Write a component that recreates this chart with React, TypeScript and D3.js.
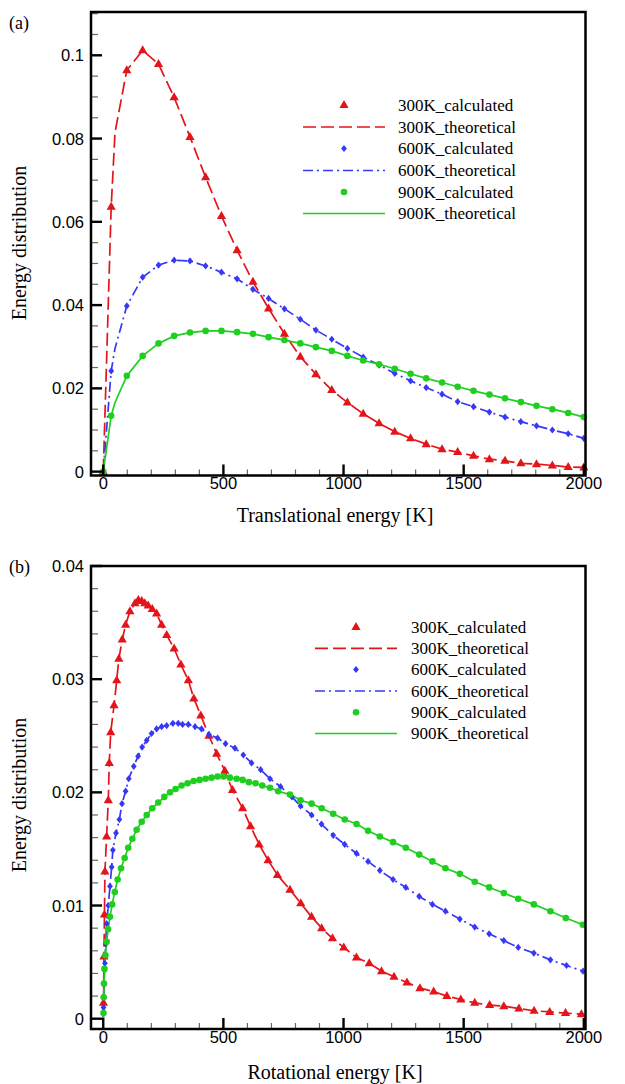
import React from "react";
import * as d3 from "d3";

// ---------- Panel (a): translational energy ----------
const transE = [0, 33, 98, 164, 230, 295, 361, 426, 492, 557, 623, 688, 754, 820, 885, 951, 1016, 1082, 1148, 1213, 1279, 1344, 1410, 1475, 1541, 1607, 1672, 1738, 1803, 1869, 1935, 2000];
const trans300Calc = [0, 0.0636, 0.0964, 0.1012, 0.0979, 0.0899, 0.0804, 0.0707, 0.0614, 0.0532, 0.0456, 0.0392, 0.0331, 0.0276, 0.0234, 0.0196, 0.0166, 0.0139, 0.0116, 0.0096, 0.008, 0.0066, 0.0054, 0.0047, 0.0038, 0.003, 0.0026, 0.002, 0.0018, 0.0015, 0.0011, 0.001];
const trans600Calc = [0, 0.0242, 0.0398, 0.0467, 0.0496, 0.0508, 0.0506, 0.0494, 0.0479, 0.0463, 0.0438, 0.0416, 0.0391, 0.0366, 0.034, 0.0318, 0.0296, 0.0275, 0.0256, 0.0236, 0.0218, 0.0202, 0.0186, 0.0168, 0.0156, 0.0143, 0.0131, 0.012, 0.011, 0.01, 0.0091, 0.008];
const trans900Calc = [0, 0.0134, 0.023, 0.0278, 0.0308, 0.0326, 0.0334, 0.0338, 0.0338, 0.0335, 0.0331, 0.0323, 0.0316, 0.0308, 0.0299, 0.029, 0.0278, 0.0267, 0.0258, 0.0247, 0.0235, 0.0224, 0.0214, 0.0204, 0.0194, 0.0185, 0.0176, 0.0167, 0.0158, 0.015, 0.0141, 0.0131];

const transTheoE = [0, 33, 49, 98, 164, 230, 295, 361, 426, 492, 557, 623, 688, 754, 820, 885, 951, 1016, 1082, 1148, 1213, 1279, 1344, 1410, 1475, 1541, 1607, 1672, 1738, 1803, 1869, 1935, 2000];
const trans300Theo = [0, 0.0636, 0.0815, 0.0964, 0.1012, 0.0979, 0.0899, 0.0804, 0.0707, 0.0614, 0.0532, 0.0456, 0.0392, 0.0331, 0.0276, 0.0234, 0.0196, 0.0166, 0.0139, 0.0116, 0.0096, 0.008, 0.0066, 0.0054, 0.0047, 0.0038, 0.003, 0.0026, 0.002, 0.0018, 0.0015, 0.0011, 0.001];
const trans600Theo = [0, 0.0242, 0.0296, 0.0398, 0.0467, 0.0496, 0.0508, 0.0506, 0.0494, 0.0479, 0.0463, 0.0438, 0.0416, 0.0391, 0.0366, 0.034, 0.0318, 0.0296, 0.0275, 0.0256, 0.0236, 0.0218, 0.0202, 0.0186, 0.0168, 0.0156, 0.0143, 0.0131, 0.012, 0.011, 0.01, 0.0091, 0.008];
const trans900Theo = [0, 0.0134, 0.0166, 0.023, 0.0278, 0.0308, 0.0326, 0.0334, 0.0338, 0.0338, 0.0335, 0.0331, 0.0323, 0.0316, 0.0308, 0.0299, 0.029, 0.0278, 0.0267, 0.0258, 0.0247, 0.0235, 0.0224, 0.0214, 0.0204, 0.0194, 0.0185, 0.0176, 0.0167, 0.0158, 0.015, 0.0141, 0.0131];

// ---------- Panel (b): rotational energy ([E, value]) ----------
const rot300Calc = [
  [1, 0.0014], [3, 0.0055], [5, 0.0092], [7, 0.013], [14, 0.0161], [21, 0.0193], [25, 0.0226], [31, 0.0253],
  [45, 0.0277], [56, 0.0299], [65, 0.0318], [79, 0.0335], [93, 0.0348], [111, 0.036], [132, 0.0367], [146, 0.037],
  [160, 0.0369], [173, 0.0367], [187, 0.0365], [204, 0.0362], [222, 0.0358], [243, 0.0348], [264, 0.0339],
  [295, 0.0327], [323, 0.0313], [354, 0.0299], [377, 0.0283], [406, 0.0268], [440, 0.025], [472, 0.0234],
  [506, 0.0219], [538, 0.0202], [580, 0.0186], [613, 0.017], [649, 0.0154], [686, 0.014], [725, 0.0127],
  [777, 0.0114], [822, 0.0102], [867, 0.009], [909, 0.008], [954, 0.0071], [1001, 0.0063], [1054, 0.0054],
  [1107, 0.0049], [1158, 0.0042], [1210, 0.0037], [1264, 0.0032], [1318, 0.0027], [1375, 0.0024], [1430, 0.002],
  [1488, 0.0017], [1546, 0.0014], [1608, 0.0012], [1667, 0.0011], [1730, 0.0009], [1793, 0.0007], [1858, 0.0006],
  [1924, 0.0005], [1990, 0.0004],
];
const rot600Calc = [
  [1, 0.001], [3, 0.003], [7, 0.0049], [10, 0.0066], [14, 0.0084], [21, 0.01], [28, 0.0117], [35, 0.0134],
  [40, 0.0149], [53, 0.0164], [67, 0.0176], [78, 0.019], [93, 0.0201], [106, 0.0212], [127, 0.0223], [145, 0.0232],
  [162, 0.024], [181, 0.0246], [201, 0.0252], [222, 0.0256], [243, 0.0258], [264, 0.0259], [290, 0.0261],
  [312, 0.0261], [330, 0.026], [354, 0.026], [382, 0.0258], [409, 0.0256], [440, 0.0251], [476, 0.0248],
  [509, 0.0243], [548, 0.0239], [583, 0.0233], [617, 0.0226], [655, 0.022], [694, 0.0212], [738, 0.0205],
  [785, 0.0196], [821, 0.0188], [867, 0.018], [908, 0.0172], [957, 0.0162], [1005, 0.0154], [1054, 0.0146],
  [1102, 0.0139], [1151, 0.0131], [1206, 0.0123], [1259, 0.0116], [1315, 0.0108], [1370, 0.0101], [1424, 0.0095],
  [1484, 0.0088], [1546, 0.0081], [1606, 0.0075], [1667, 0.0069], [1727, 0.0063], [1792, 0.0058], [1861, 0.0052],
  [1928, 0.0047], [1997, 0.0042],
];
const rot900Calc = [
  [1, 0.0005], [2, 0.0019], [3, 0.0031], [5, 0.0044], [9, 0.0056], [14, 0.0068], [20, 0.0079], [28, 0.009],
  [37, 0.0101], [48, 0.0112], [60, 0.0123], [74, 0.0133], [89, 0.0142], [104, 0.0151], [121, 0.0159], [139, 0.0167],
  [160, 0.0174], [181, 0.018], [204, 0.0186], [229, 0.0191], [254, 0.0196], [278, 0.02], [301, 0.0203],
  [326, 0.0206], [351, 0.0208], [376, 0.021], [401, 0.0211], [426, 0.0212], [451, 0.0213], [476, 0.0214],
  [501, 0.0214], [527, 0.0213], [555, 0.0212], [580, 0.0211], [606, 0.0209], [634, 0.0208], [662, 0.0206],
  [694, 0.0204], [728, 0.0201], [777, 0.0198], [821, 0.0193], [867, 0.019], [909, 0.0186], [957, 0.0181],
  [1005, 0.0176], [1054, 0.0172], [1102, 0.0166], [1151, 0.0161], [1206, 0.0156], [1259, 0.0151], [1315, 0.0145],
  [1370, 0.0139], [1424, 0.0133], [1484, 0.0128], [1546, 0.0121], [1606, 0.0116], [1667, 0.0111], [1727, 0.0106],
  [1792, 0.0101], [1861, 0.0095], [1925, 0.0089], [1996, 0.0083],
];
const rotOrigin = [[0, 0]];
const rot300Theo = [...rotOrigin, ...rot300Calc];
const rot600Theo = [...rotOrigin, ...rot600Calc];
const rot900Theo = [...rotOrigin, ...rot900Calc];

// ---------- Axes ----------
const xMajor = [0, 500, 1000, 1500, 2000];
const xMajorLabels = ["0", "500", "1000", "1500", "2000"];
const aYMajor = [0, 0.02, 0.04, 0.06, 0.08, 0.1];
const aYLabels = ["0", "0.02", "0.04", "0.06", "0.08", "0.1"];
const bYMajor = [0, 0.01, 0.02, 0.03, 0.04];
const bYLabels = ["0", "0.01", "0.02", "0.03", "0.04"];

const legendLabels = ["300K_calculated", "300K_theoretical", "600K_calculated", "600K_theoretical", "900K_calculated", "900K_theoretical"];

const RED = "#e3151b";
const BLUE = "#3737f7";
const GREEN = "#1fcf1f";
const SERIF = "'Liberation Serif', 'Times New Roman', serif";
const SANS = "'Liberation Sans', Arial, sans-serif";

const x = d3.scaleLinear().domain([-51, 2007]).range([91, 585.5]);

const TRI = "M0,-5 L4.6,3 L-4.6,3 Z";
const DIA = "M0,-3.6 L2.9,0 L0,3.6 L-2.9,0 Z";

function Marker({ kind, cx, cy, color }) {
  if (kind === "tri") return <path d={TRI} transform={`translate(${cx},${cy})`} fill={color} />;
  if (kind === "dia") return <path d={DIA} transform={`translate(${cx},${cy})`} fill={color} />;
  return <circle cx={cx} cy={cy} r={3.3} fill={color} />;
}

const styles = [
  { color: RED, kind: "tri", dash: "13,5" },
  { color: BLUE, kind: "dia", dash: "10,4,2,4" },
  { color: GREEN, kind: "circ", dash: null },
];

function Panel({ top, bottom, yDomain, yMajor, yLabels, yMinorStep, yMinorMax, calc, theo, legendY, legendLine, legendText, tag, tagY, xTitle, xTitleY, yTitleY }) {
  const y = d3.scaleLinear().domain(yDomain).range([bottom, top]);
  const line = d3.line().x((d) => x(d[0])).y((d) => y(d[1]));
  const left = 91, right = 585.5;
  const xMinor = d3.range(100, 2000, 100).filter((v) => v % 500 !== 0);
  const yMinor = d3.range(yMinorStep, yMinorMax + 1e-9, yMinorStep).filter(
    (v) => !yMajor.some((m) => Math.abs(m - v) < 1e-9)
  );
  return (
    <g>
      {theo.map((data, i) => (
        <path key={"t" + i} d={line(data)} fill="none" stroke={styles[i].color} strokeWidth={1.7}
          strokeDasharray={styles[i].dash || undefined} />
      ))}
      {calc.map((data, i) =>
        data.map((d, j) => <Marker key={"m" + i + "-" + j} kind={styles[i].kind} cx={x(d[0])} cy={y(d[1])} color={styles[i].color} />)
      )}
      {xMinor.map((v) => (
        <line key={"xm" + v} x1={x(v)} x2={x(v)} y1={bottom} y2={bottom - 6} stroke="#666" strokeWidth={1.2} />
      ))}
      {xMajor.map((v) => (
        <line key={"xM" + v} x1={x(v)} x2={x(v)} y1={bottom} y2={bottom - 11} stroke="#000" strokeWidth={2.4} />
      ))}
      {yMinor.map((v) => (
        <line key={"ym" + v} x1={left} x2={left + 7} y1={y(v)} y2={y(v)} stroke="#666" strokeWidth={1.2} />
      ))}
      {yMajor.map((v) => (
        <line key={"yM" + v} x1={left} x2={left + 11} y1={y(v)} y2={y(v)} stroke="#000" strokeWidth={2.4} />
      ))}
      <rect x={left} y={top} width={right - left} height={bottom - top} fill="none" stroke="#000" strokeWidth={2.5} />
      {xMajor.map((v, i) => (
        <text key={"xl" + v} x={x(v)} y={bottom + 13.5} textAnchor="middle" fontFamily={SANS} fontSize={16.5}>{xMajorLabels[i]}</text>
      ))}
      {yMajor.map((v, i) => (
        <text key={"yl" + v} x={84} y={y(v) + 6} textAnchor="end" fontFamily={SANS} fontSize={16.5}>{yLabels[i]}</text>
      ))}
      <text x={335} y={xTitleY} textAnchor="middle" fontFamily={SERIF} fontSize={20}>{xTitle}</text>
      <text transform={`translate(26,${yTitleY}) rotate(-90)`} textAnchor="middle" fontFamily={SERIF} fontSize={20}>Energy distribution</text>
      <text x={9} y={tagY} fontFamily={SERIF} fontSize={18}>{tag}</text>
      {legendLabels.map((lab, k) => {
        const ly = legendY[k];
        const s = styles[Math.floor(k / 2)];
        const isCalc = k % 2 === 0;
        return (
          <g key={"lg" + k}>
            {isCalc ? (
              <Marker kind={s.kind} cx={(legendLine[0] + legendLine[1]) / 2} cy={ly} color={s.color} />
            ) : (
              <line x1={legendLine[0]} x2={legendLine[1]} y1={ly} y2={ly} stroke={s.color} strokeWidth={1.7}
                strokeDasharray={s.dash || undefined} />
            )}
            <text x={legendText} y={ly + 5.5} fontFamily={SERIF} fontSize={17}>{lab}</text>
          </g>
        );
      })}
    </g>
  );
}

const zipE = (arr) => transE.map((e, i) => [e, arr[i]]);
const zipT = (arr) => transTheoE.map((e, i) => [e, arr[i]]);

export default function App() {
  return (
    <svg width={625} height={1084} style={{ position: "absolute", left: 0, top: 0, background: "#fff" }}>
      <rect width={625} height={1084} fill="#fff" />
      <Panel
        top={12} bottom={475.5} yDomain={[-0.00093, 0.1104]}
        yMajor={aYMajor} yLabels={aYLabels} yMinorStep={0.005} yMinorMax={0.11}
        calc={[zipE(trans300Calc), zipE(trans600Calc), zipE(trans900Calc)]}
        theo={[zipT(trans300Theo), zipT(trans600Theo), zipT(trans900Theo)]}
        legendY={[105, 127, 148.5, 170.5, 192, 213.5]} legendLine={[303, 385]} legendText={398}
        tag="(a)" tagY={29} xTitle="Translational energy [K]" xTitleY={522} yTitleY={243}
      />
      <Panel
        top={566} bottom={1029} yDomain={[-0.00091, 0.04]}
        yMajor={bYMajor} yLabels={bYLabels} yMinorStep={0.002} yMinorMax={0.039}
        calc={[rot300Calc, rot600Calc, rot900Calc]}
        theo={[rot300Theo, rot600Theo, rot900Theo]}
        legendY={[627, 648.3, 669.5, 691, 712.3, 733.5]} legendLine={[315, 397]} legendText={411}
        tag="(b)" tagY={573} xTitle="Rotational energy [K]" xTitleY={1079} yTitleY={795}
      />
    </svg>
  );
}
